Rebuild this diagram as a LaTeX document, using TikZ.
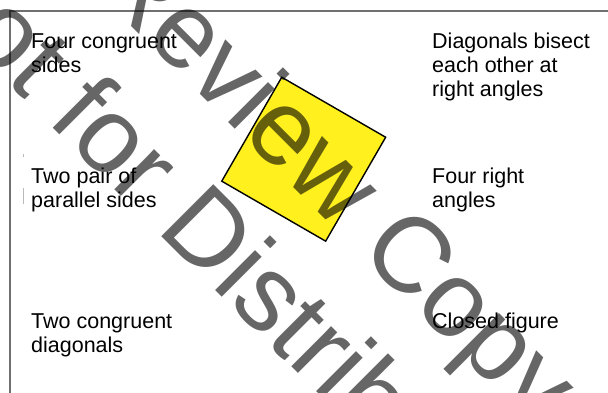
\documentclass[tikz,border=0pt]{standalone}
\usepackage{fontspec}
\setmainfont{Liberation Sans}
\usetikzlibrary{positioning}

\definecolor{sqyellow}{RGB}{255,240,30}
\definecolor{framegray}{RGB}{112,112,112}

\begin{document}
\begin{tikzpicture}[x=1pt, y=-1pt,
		prop/.style={anchor=base west, align=left, inner sep=0pt,
			font=\fontsize{21.5}{24}\selectfont},
		sqshape/.style={draw=black, line width=1.4pt, fill=sqyellow,
			minimum size=120pt, inner sep=0pt, rotate=-30},
		stamp/.style={anchor=base, inner sep=0pt, text=black, text opacity=0.6,
			font=\fontsize{107}{107}\selectfont, rotate=-45}]

		% === figure bounds ===
		\def\figW{608}	\def\figH{392}
		\def\xl{31}	\def\xr{432}
		\useasboundingbox (0,0) rectangle (\figW,\figH);
		\clip (0,0) rectangle (\figW,\figH);

		% === Frame ===
		\draw[framegray, line width=2.2pt] (10,\figH+10) -- (10,10.6) -- (\figW+10,10.6);
		\draw[gray!55, line width=0.7pt] (23.5,188) -- (23.5,204);	% stray marks
		\draw[gray!55, line width=0.7pt] (23,154) -- (23,156.5);

		% === Square ===
		\node[sqshape] (square) at (303.7,159.2) {};

		% === Properties (base = last line) ===
		\node[prop] (congsides) at (\xl,72.4) {Four congruent\\sides};
		\node[prop] (bisect) at (\xr,96.4) {Diagonals bisect\\each other at\\right angles};
		\node[prop] (parallel) at (\xl,207) {Two pair of\\parallel sides};
		\node[prop] (rightang) at (\xr,207) {Four right\\angles};
		\node[prop] (congdiag) at (\xl,352.3) {Two congruent\\diagonals};
		\node[prop] (closed) at (\xr,328.3) {Closed figure};

		% === Watermark ===
		\node[stamp] (wmtop) at (311.7,205.9) {Review Copy};
		\node[stamp] (wmbot) at (221,296) {Not for Distribution};
	\end{tikzpicture}
\end{document}
